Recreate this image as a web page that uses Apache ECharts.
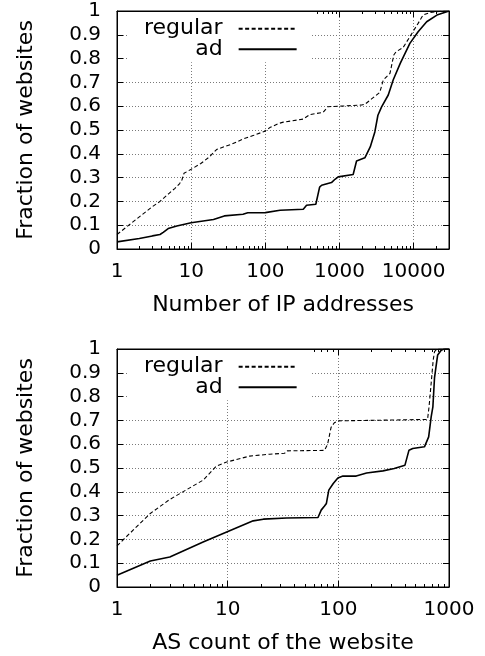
<!DOCTYPE html>
<html><head><meta charset="utf-8">
<script src="https://cdn.jsdelivr.net/npm/echarts@6/dist/echarts.min.js"></script>
<style>html,body{margin:0;padding:0;background:#fff}#c{width:485px;height:656px}</style>
</head><body><div id="c"></div>
<script>
// ---- data: [value, fraction of websites] ----
const ipRegular = [[1,0.061],[2,0.135],[3,0.178],[3.8,0.2],[5,0.233],[6,0.254],[7,0.275],[7.5,0.29],[8,0.318],[10,0.335],[13.5,0.359],[17.6,0.387],[22,0.418],[28,0.43],[35,0.44],[50,0.462],[70,0.478],[99,0.495],[115,0.51],[150,0.527],[175,0.533],[325,0.546],[400,0.565],[600,0.574],[700,0.598],[1000,0.6],[2000,0.605],[2200,0.608],[2600,0.626],[3500,0.658],[3900,0.71],[4800,0.738],[5400,0.815],[5800,0.829],[7200,0.846],[8900,0.892],[11500,0.948],[13400,0.983],[16600,0.994],[25000,1.0],[30000,1.0]];
const ipAd = [[1,0.03],[2,0.044],[3,0.055],[3.8,0.061],[4.2,0.07],[4.9,0.086],[6.4,0.097],[10,0.11],[20,0.124],[28,0.139],[50,0.146],[58,0.152],[100,0.153],[158,0.163],[325,0.167],[360,0.184],[480,0.188],[540,0.26],[575,0.268],[780,0.279],[870,0.293],[960,0.303],[1530,0.313],[1570,0.318],[1700,0.37],[2200,0.383],[2600,0.429],[3000,0.492],[3300,0.562],[3700,0.597],[4550,0.647],[5300,0.71],[6600,0.78],[8900,0.864],[11500,0.913],[15000,0.955],[20600,0.983],[28000,0.997],[30000,1.0]];
const asRegular = [[1,0.173],[2,0.309],[3,0.368],[6,0.449],[7.9,0.508],[9.8,0.525],[15.8,0.55],[24,0.558],[32.7,0.562],[34.5,0.572],[75,0.574],[80,0.6],[86,0.671],[92,0.69],[99,0.698],[640,0.704],[660,0.757],[690,0.856],[720,0.954],[740,0.989],[780,1],[1000,1]];
const asAd = [[1,0.049],[2,0.109],[3,0.126],[6,0.189],[9.8,0.231],[17,0.278],[21,0.285],[34,0.29],[65.5,0.292],[70,0.323],[75,0.34],[78,0.351],[82,0.407],[90,0.435],[99,0.458],[110,0.466],[145,0.466],[180,0.479],[253,0.488],[320,0.498],[400,0.512],[415,0.516],[435,0.575],[470,0.582],[600,0.589],[655,0.631],[690,0.715],[715,0.757],[740,0.88],[760,0.92],[790,0.975],[850,0.995],[900,1],[1000,1]];

const seriesNames = ['regular', 'ad'];
const ipMajorTicks = [1, 10, 100, 1000, 10000];
const asMajorTicks = [1, 10, 100, 1000];
const ipMax = 30000, asMax = 1000;
const yTickLabels = ['0','0.1','0.2','0.3','0.4','0.5','0.6','0.7','0.8','0.9','1'];
const xTitles = ['Number of IP addresses', 'AS count of the website'];
const yTitle = 'Fraction of websites';

function minorTicks(max) {
  const out = [];
  for (let d = 1; d < max; d *= 10) for (let k = 2; k <= 9; k++) if (d * k < max) out.push(d * k);
  return out;
}

const FONT = 'DejaVu Sans';
const TXT = { fontFamily: FONT, fontSize: 20, color: '#000' };
const TXT22 = { fontFamily: FONT, fontSize: 22, color: '#000' };
const GRIDLINE = { show: true, lineStyle: { color: '#7a7a7a', type: [1, 2], width: 1 } };

function xAxesFor(g, max, major, title) {
  return [
    { type: 'log', logBase: 10, gridIndex: g, min: 1, max: max, position: 'bottom',
      axisLine: { show: true, lineStyle: { color: '#000', width: 1 } },
      axisTick: { show: true, inside: true, length: 6, lineStyle: { color: '#000' } },
      axisLabel: Object.assign({ show: true, margin: 12.5, customValues: major, formatter: v => String(Math.round(v)) }, TXT),
      splitLine: GRIDLINE,
      name: title, nameLocation: 'middle', nameGap: 45, nameTextStyle: TXT22 },
    { type: 'log', logBase: 10, gridIndex: g, min: 1, max: max, position: 'bottom',
      axisLine: { show: false }, axisLabel: { show: false }, splitLine: { show: false },
      axisTick: { show: true, inside: true, length: 3, customValues: minorTicks(max), lineStyle: { color: '#000' } } },
    { type: 'log', logBase: 10, gridIndex: g, min: 1, max: max, position: 'top',
      axisLine: { show: true, lineStyle: { color: '#000', width: 1 } }, axisLabel: { show: false }, splitLine: { show: false },
      axisTick: { show: true, inside: true, length: 6, lineStyle: { color: '#000' } } },
    { type: 'log', logBase: 10, gridIndex: g, min: 1, max: max, position: 'top',
      axisLine: { show: false }, axisLabel: { show: false }, splitLine: { show: false },
      axisTick: { show: true, inside: true, length: 3, customValues: minorTicks(max), lineStyle: { color: '#000' } } }
  ];
}
function yAxesFor(g) {
  return [
    { type: 'value', gridIndex: g, min: 0, max: 1, interval: 0.1, position: 'left',
      axisLine: { show: true, lineStyle: { color: '#000', width: 1 } },
      axisTick: { show: true, inside: true, length: 6, lineStyle: { color: '#000' } },
      axisLabel: Object.assign({ show: true, margin: 16, formatter: (v) => yTickLabels[Math.round(v * 10)] }, TXT),
      splitLine: GRIDLINE,
      name: yTitle, nameLocation: 'middle', nameGap: 80, nameTextStyle: TXT22 },
    { type: 'value', gridIndex: g, min: 0, max: 1, interval: 0.1, position: 'right',
      axisLine: { show: true, lineStyle: { color: '#000', width: 1 } },
      axisTick: { show: true, inside: true, length: 6, lineStyle: { color: '#000' } },
      axisLabel: { show: false }, splitLine: { show: false } }
  ];
}
function lineSeries(name, data, xi, yi) {
  const dashed = name === 'regular';
  return { name: name, type: 'line', xAxisIndex: xi, yAxisIndex: yi, data: data,
    symbol: 'none', showSymbol: false, silent: true, animation: false,
    lineStyle: { color: '#000', width: dashed ? 1.1 : 1.6, type: dashed ? [4, 2.5] : 'solid' },
    itemStyle: { color: '#000' } };
}
function legendAt(top) {
  return { data: seriesNames, orient: 'vertical', align: 'right', left: 127, top: top,
    padding: [5.7, 14, 2, 17], itemGap: -1.4, itemWidth: 58, itemHeight: 14,
    backgroundColor: '#fff', selectedMode: false,
    itemStyle: { color: 'rgba(0,0,0,0)', borderColor: 'rgba(0,0,0,0)', borderWidth: 0 },
    textStyle: Object.assign({ padding: [0, 11, 0, 0] }, TXT22) };
}

const chart = echarts.init(document.getElementById('c'), null, { renderer: 'canvas' });
chart.setOption({
  backgroundColor: '#fff',
  animation: false,
  grid: [
    { left: 117, top: 11, width: 332, height: 238, show: true, borderColor: '#000', borderWidth: 1, backgroundColor: 'transparent' },
    { left: 117, top: 349, width: 332, height: 238, show: true, borderColor: '#000', borderWidth: 1, backgroundColor: 'transparent' }
  ],
  xAxis: [].concat(xAxesFor(0, ipMax, ipMajorTicks, xTitles[0]), xAxesFor(1, asMax, asMajorTicks, xTitles[1])),
  yAxis: [].concat(yAxesFor(0), yAxesFor(1)),
  legend: [legendAt(12), legendAt(350)],
  series: [
    lineSeries('regular', ipRegular, 0, 0),
    lineSeries('ad', ipAd, 0, 0),
    lineSeries('regular', asRegular, 4, 2),
    lineSeries('ad', asAd, 4, 2)
  ]
});
</script>
</body></html>
